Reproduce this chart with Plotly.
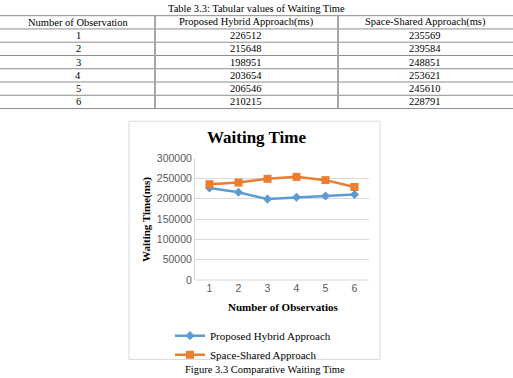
import plotly.graph_objects as go

observations = [1, 2, 3, 4, 5, 6]
hybrid = [226512, 215648, 198951, 203654, 206546, 210215]
space_shared = [235569, 239584, 248851, 253621, 245610, 228791]
series_names = ["Proposed Hybrid Approach", "Space-Shared Approach"]
table_headers = ["Number of Observation", "Proposed Hybrid Approach(ms)", "Space-Shared Approach(ms)"]
y_ticks = [0, 50000, 100000, 150000, 200000, 250000, 300000]

W, H = 513, 378
def px(x):
    return x / W
def py(y):
    return 1 - y / H

SERIF = "Liberation Serif, Times New Roman, serif"
SANS = "Liberation Sans, Arial, sans-serif"

fig = go.Figure()
fig.add_trace(go.Scatter(
    x=observations, y=hybrid, name=series_names[0], mode="lines+markers",
    line=dict(color="#5B9BD5", width=2.5),
    marker=dict(symbol="diamond", size=7, color="#5B9BD5")))
fig.add_trace(go.Scatter(
    x=observations, y=space_shared, name=series_names[1], mode="lines+markers",
    line=dict(color="#ED7D31", width=2.5),
    marker=dict(symbol="square", size=8, color="#ED7D31")))

shapes = []
annotations = []

# ---- table ----
row_lines = [10, 23.7, 37.4, 51.1, 64.8, 78.5, 92.2, 105.9]
for yy in row_lines:
    shapes.append(dict(type="line", xref="paper", yref="paper",
                       x0=0, x1=1, y0=py(yy), y1=py(yy),
                       line=dict(color="#8C8C8C", width=1)))
for xx in [155, 338]:
    shapes.append(dict(type="line", xref="paper", yref="paper",
                       x0=px(xx), x1=px(xx), y0=py(row_lines[0]), y1=py(row_lines[-1]),
                       line=dict(color="#A6A6A6", width=2)))
col_centers = [78, 246, 425]
rows = [table_headers] + [[str(o), str(h), str(s)] for o, h, s in zip(observations, hybrid, space_shared)]
for i, row in enumerate(rows):
    yc = (row_lines[i] + row_lines[i + 1]) / 2
    for xc, txt in zip(col_centers, row):
        annotations.append(dict(text=txt, x=px(xc), y=py(yc), xref="paper", yref="paper",
                                showarrow=False, xanchor="center", yanchor="middle",
                                font=dict(family=SERIF, size=10.5, color="#000000")))
annotations.append(dict(text="Table 3.3: Tabular values of Waiting Time", x=px(256), y=py(2.5),
                        xref="paper", yref="paper", showarrow=False,
                        xanchor="center", yanchor="middle",
                        font=dict(family=SERIF, size=10.5, color="#000000")))

# ---- chart frame ----
shapes.append(dict(type="rect", xref="paper", yref="paper",
                   x0=px(129), x1=px(380), y0=py(365), y1=py(119),
                   line=dict(color="#D9D9D9", width=1), layer="below"))

annotations.append(dict(text="<b>Waiting Time</b>", x=px(256), y=py(136), xref="paper", yref="paper",
                        showarrow=False, xanchor="center", yanchor="middle",
                        font=dict(family=SERIF, size=17, color="#000000")))
annotations.append(dict(text="<b>Waiting Time(ms)</b>", x=px(147), y=py(221), xref="paper", yref="paper",
                        showarrow=False, xanchor="center", yanchor="middle", textangle=-90,
                        font=dict(family=SERIF, size=11, color="#000000")))
annotations.append(dict(text="<b>Number of Observatios</b>", x=px(283), y=py(311), xref="paper", yref="paper",
                        showarrow=False, xanchor="center", yanchor="middle",
                        font=dict(family=SERIF, size=11, color="#000000")))
annotations.append(dict(text="Figure 3.3 Comparative Waiting Time", x=px(265), y=py(375), xref="paper", yref="paper",
                        showarrow=False, xanchor="center", yanchor="middle",
                        font=dict(family=SERIF, size=10.5, color="#000000")))

fig.update_layout(
    width=W, height=H,
    margin=dict(l=0, r=0, t=0, b=0),
    paper_bgcolor="white", plot_bgcolor="white",
    shapes=shapes, annotations=annotations,
    xaxis=dict(domain=[px(195), px(369)], range=[0.5, 6.5], tickmode="array",
               tickvals=observations, ticktext=[str(o) for o in observations],
               showgrid=False, zeroline=False, showline=False, ticks="",
               tickfont=dict(family=SANS, size=10.5, color="#595959")),
    yaxis=dict(domain=[py(283), py(157)], range=[0, 300000], tickmode="array",
               tickvals=y_ticks, ticktext=[str(v) for v in y_ticks],
               showgrid=True, gridcolor="#D9D9D9", gridwidth=1, zeroline=False,
               showline=True, linecolor="#D9D9D9", ticks="",
               tickfont=dict(family=SANS, size=10.5, color="#595959")),
    showlegend=True,
    legend=dict(x=px(170), y=py(325.5), xanchor="left", yanchor="top",
                orientation="v", bgcolor="rgba(0,0,0,0)",
                font=dict(family=SERIF, size=11, color="#000000"),
                tracegroupgap=0, itemwidth=30),
)
fig.add_shape(type="line", xref="paper", yref="paper", x0=px(195), x1=px(369), y0=py(283), y1=py(283),
              line=dict(color="#D9D9D9", width=1))

fig.write_html("out.html")
